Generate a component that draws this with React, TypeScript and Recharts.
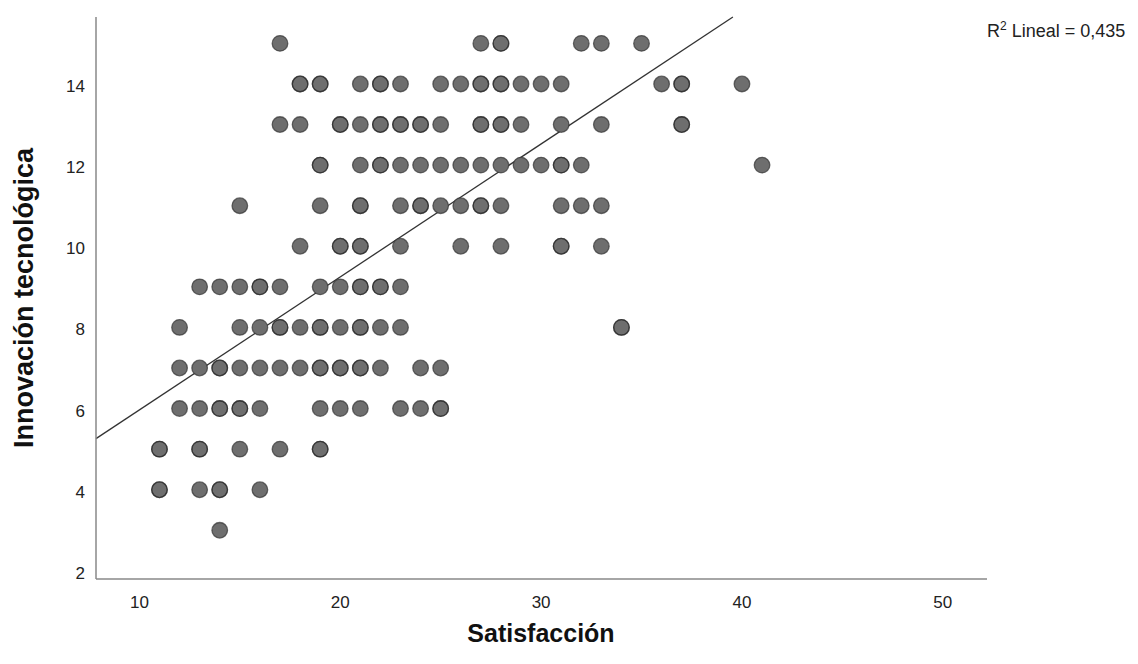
import { ScatterChart, Scatter, XAxis, YAxis, ReferenceLine } from 'recharts';

// Satisfacción values observed at each level of Innovación tecnológica
const atY15 = [17, 27, 28, 32, 33, 35];
const atY14 = [18, 19, 21, 22, 23, 25, 26, 27, 28, 29, 30, 31, 36, 37, 40];
const atY13 = [17, 18, 20, 21, 22, 23, 24, 25, 27, 28, 29, 31, 33, 37];
const atY12 = [19, 21, 22, 23, 24, 25, 26, 27, 28, 29, 30, 31, 32, 41];
const atY11 = [15, 19, 21, 23, 24, 25, 26, 27, 28, 31, 32, 33];
const atY10 = [18, 20, 21, 23, 26, 28, 31, 33];
const atY9 = [13, 14, 15, 16, 17, 19, 20, 21, 22, 23];
const atY8 = [12, 15, 16, 17, 18, 19, 20, 21, 22, 23, 34];
const atY7 = [12, 13, 14, 15, 16, 17, 18, 19, 20, 21, 22, 24, 25];
const atY6 = [12, 13, 14, 15, 16, 19, 20, 21, 23, 24, 25];
const atY5 = [11, 13, 15, 17, 19];
const atY4 = [11, 13, 14, 16];
const atY3 = [14];

// cases that appear more than once (drawn with a darker edge)
const repeatedX = [28, 18, 19, 22, 27, 28, 37, 20, 22, 23, 24, 27, 28, 37, 19, 22, 31, 21, 24, 27, 20, 21, 31, 16, 21, 22, 17, 19, 21, 34, 14, 19, 20, 21, 14, 15, 25, 11, 13, 19, 11, 14];
const repeatedY = [15, 14, 14, 14, 14, 14, 14, 13, 13, 13, 13, 13, 13, 13, 12, 12, 12, 11, 11, 11, 10, 10, 10, 9, 9, 9, 8, 8, 8, 8, 7, 7, 7, 7, 6, 6, 6, 5, 5, 5, 4, 4];

// fitted line end points
const fitX = [7.84, 39.55];
const fitY = [5.26, 15.65];

const xTicks = [10, 20, 30, 40, 50];
const yTicks = [2, 4, 6, 8, 10, 12, 14];

const rows: [number, number[]][] = [
  [15, atY15], [14, atY14], [13, atY13], [12, atY12], [11, atY11], [10, atY10],
  [9, atY9], [8, atY8], [7, atY7], [6, atY6], [5, atY5], [4, atY4], [3, atY3],
];

const points = rows.flatMap(([y, xs]) => xs.map((x) => ({ x, y })));
const repeated = repeatedX.map((x, i) => ({ x, y: repeatedY[i] }));

const FONT = '"Liberation Sans", Arial, sans-serif';
const tickStyle = { fontSize: 17, fill: '#222', fontFamily: FONT };

export default function App() {
  return (
    <div style={{ position: 'absolute', left: 0, top: 0, width: 1138, height: 664, background: '#fff', fontFamily: FONT }}>
      <ScatterChart width={1138} height={664} margin={{ top: 17, right: 151, bottom: 45, left: 36 }}>
        <XAxis
          type="number"
          dataKey="x"
          domain={[7.84, 52.2]}
          ticks={xTicks}
          allowDataOverflow
          tickLine={false}
          axisLine={{ stroke: '#888', strokeWidth: 1.5 }}
          tick={tickStyle}
          tickMargin={11}
          height={40}
        />
        <YAxis
          type="number"
          dataKey="y"
          domain={[1.8, 15.65]}
          ticks={yTicks}
          allowDataOverflow
          tickLine={false}
          axisLine={{ stroke: '#888', strokeWidth: 1.5 }}
          tick={{ ...tickStyle, dy: 2 }}
          tickMargin={5}
          width={60}
        />
        <Scatter data={points} fill="#6e6e6e" isAnimationActive={false}
          shape={(p: any) => <circle cx={p.cx} cy={p.cy} r={7.8} fill="#6e6e6e" stroke="#333" strokeOpacity={0.7} strokeWidth={1.3} />} />
        <Scatter data={repeated} fill="none" isAnimationActive={false}
          shape={(p: any) => <circle cx={p.cx} cy={p.cy} r={7.8} fill="none" stroke="#222" strokeOpacity={0.6} strokeWidth={1.3} />} />
        <ReferenceLine
          segment={[{ x: fitX[0], y: fitY[0] }, { x: fitX[1], y: fitY[1] }]}
          stroke="#333"
          strokeWidth={1.3}
        />
      </ScatterChart>
      <div style={{ position: 'absolute', left: 987, top: 19, fontSize: 18, color: '#222', whiteSpace: 'nowrap' }}>
        R<sup style={{ fontSize: 12 }}>2</sup> Lineal = 0,435
      </div>
      <div style={{ position: 'absolute', left: 541, top: 633, transform: 'translate(-50%, -50%)', fontSize: 25, fontWeight: 'bold', color: '#111', whiteSpace: 'nowrap', lineHeight: 1 }}>
        Satisfacción
      </div>
      <div style={{ position: 'absolute', left: 24, top: 298, transform: 'translate(-50%, -50%) rotate(-90deg)', fontSize: 27, fontWeight: 'bold', color: '#111', whiteSpace: 'nowrap' }}>
        Innovación tecnológica
      </div>
    </div>
  );
}
